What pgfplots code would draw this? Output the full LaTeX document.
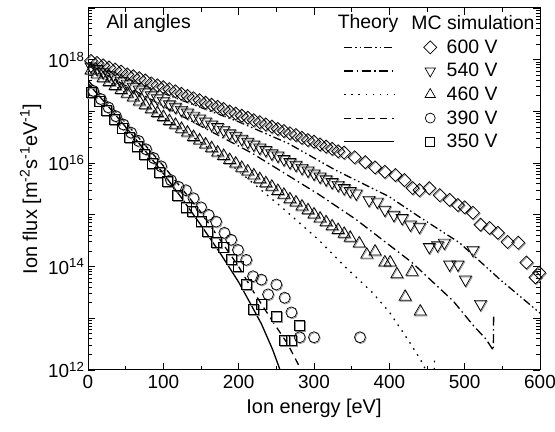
\documentclass[border=0pt]{standalone}
\usepackage{fontspec}
\setmainfont{Liberation Sans}
\usepackage{pgfplots}
\usepackage{pgfplotstable}
\pgfplotsset{compat=1.18}
% MC simulation data
\pgfplotstableread{
E y
4 9.5e17
12 8.7e17
20 7.8e17
28 7.1e17
36 6.5e17
44 5.9e17
52 5.2e17
60 4.8e17
68 4.4e17
76 4.0e17
84 3.5e17
92 3.2e17
100 2.95e17
108 2.7e17
116 2.45e17
124 2.2e17
132 2.0e17
140 1.8e17
148 1.66e17
156 1.48e17
164 1.35e17
172 1.23e17
180 1.12e17
188 1.0e17
196 9.1e16
204 8.3e16
212 7.6e16
220 6.8e16
228 6.2e16
236 5.6e16
244 5.1e16
252 4.6e16
260 4.2e16
268 3.8e16
276 3.5e16
284 3.1e16
292 2.8e16
300 2.6e16
308 2.3e16
316 2.1e16
324 1.9e16
332 1.7e16
340 1.6e16
354 1.3e16
368 1.05e16
381 8.3e15
394 6.8e15
408 5.9e15
420 4.7e15
431 3.3e15
440 3.0e15
453 3.3e15
467 2.4e15
480 1.95e15
491 1.55e15
500 1.4e15
511 1.1e15
521 6.5e14
533 5.6e14
544 4.5e14
557 3.0e14
571 2.9e14
582 1.2e14
594 6.2e13
599 7.6e13
}\mcA
\pgfplotstableread{
E y
4 7.4e17
12 6.6e17
20 5.75e17
28 5.0e17
36 4.5e17
44 3.9e17
52 3.45e17
60 3.0e17
68 2.65e17
76 2.35e17
84 2.05e17
92 1.8e17
100 1.6e17
108 1.38e17
116 1.23e17
124 1.07e17
132 9.5e16
140 8.3e16
148 7.3e16
156 6.4e16
164 5.6e16
172 5.0e16
180 4.4e16
188 3.8e16
196 3.4e16
204 2.95e16
212 2.6e16
220 2.3e16
228 2.0e16
236 1.8e16
244 1.55e16
252 1.4e16
260 1.2e16
268 1.05e16
276 9.3e15
284 8.1e15
292 7.2e15
300 6.3e15
308 5.5e15
316 4.9e15
324 4.3e15
332 3.8e15
340 3.3e15
348 2.9e15
356 2.6e15
373 1.95e15
384 1.8e15
394 1.26e15
406 1.0e15
417 8.7e14
428 6.5e14
440 5.9e14
453 2.4e14
464 2.6e14
473 2.9e14
480 1.1e14
491 1.1e14
501 5.6e13
511 2.1e14
521 1.9e13
}\mcB
\pgfplotstableread{
E y
4 6.2e17
12 5.2e17
20 4.4e17
28 3.7e17
36 3.1e17
44 2.6e17
52 2.2e17
60 1.86e17
68 1.55e17
76 1.32e17
84 1.1e17
92 9.3e16
100 7.8e16
108 6.5e16
116 5.5e16
124 4.6e16
132 3.9e16
140 3.2e16
148 2.75e16
156 2.3e16
164 1.95e16
172 1.6e16
180 1.38e16
188 1.15e16
196 9.8e15
204 8.1e15
212 6.9e15
220 5.8e15
228 4.9e15
236 4.1e15
244 3.5e15
252 2.9e15
260 2.45e15
268 2.0e15
276 1.74e15
284 1.45e15
292 1.23e15
300 1.02e15
308 8.5e14
316 7.2e14
324 6.0e14
332 5.1e14
340 4.3e14
348 3.6e14
360 2.8e14
370 1.7e14
381 1.95e14
394 1.2e14
401 1.2e14
410 7.1e13
421 2.6e13
430 7.9e13
441 1.35e13
}\mcC
\pgfplotstableread{
E y
7 2.5e17
17 1.74e17
27 1.2e17
37 8.1e16
47 5.6e16
57 3.9e16
67 2.7e16
77 1.86e16
87 1.26e16
97 8.7e15
110 4.7e15
120 3.5e15
130 3.0e15
140 2.1e15
150 1.4e15
160 1.0e15
170 7.4e14
181 4.5e14
190 3.3e14
199 2.1e14
210 1.35e14
219 6.5e13
230 5.6e13
239 2.9e13
250 4.5e13
261 2.5e13
270 1.3e13
281 4.3e12
300 4.3e12
361 4.3e12
}\mcD
\pgfplotstableread{
E y
5 2.3e17
15 1.6e17
25 1.05e17
35 7.1e16
45 4.8e16
55 3.2e16
65 2.1e16
75 1.45e16
85 9.8e15
95 6.5e15
105 4.4e15
119 2.4e15
130 1.4e15
139 1.15e15
150 7.4e14
159 4.7e14
170 2.9e14
180 2.4e14
190 1.35e14
199 1.0e14
210 4.5e13
220 1.5e13
230 1.9e13
250 1.1e13
261 3.7e12
270 3.7e12
281 7.4e12
}\mcE
\pgfplotsset{
  dddot/.style={dash pattern=on 8bp off 3bp on 1.5bp off 3bp on 1.5bp off 3bp},
  ddot/.style={dash pattern=on 9bp off 3.5bp on 1.5bp off 3.5bp},
  ddotted/.style={dash pattern=on 1.6bp off 5.5bp},
  ddashed/.style={dash pattern=on 7bp off 5bp},
  th/.style={black, line width=1.3bp, forget plot},
  mk/.style={only marks, black, line width=0.7bp, forget plot},
  sh/.style={only marks, black!45, line width=0.7bp, forget plot},
}
\begin{document}
\begin{tikzpicture}
\path[use as bounding box] (0,0) rectangle (555bp,432bp);
\begin{axis}[
  at={(88bp,62bp)}, anchor=south west, scale only axis,
  width=452bp, height=362bp,
  xmin=0, xmax=600, ymin=1e12, ymax=1e19, ymode=log,
  xtick={0,100,200,300,400,500,600}, minor x tick num=1,
  ytick={1e12,1e13,1e14,1e15,1e16,1e17,1e18,1e19},
  yticklabels={10\textsuperscript{12},,10\textsuperscript{14},,10\textsuperscript{16},,10\textsuperscript{18},},
  major tick length=7bp, minor tick length=4bp,
  tick style={black, line width=0.8bp},
  axis line style={line width=1bp},
  ticklabel style={font=\fontsize{19}{22}\selectfont},
  xticklabel style={yshift=-2bp},
  /pgf/number format/assume math mode=true,
  xlabel={Ion energy [eV]},
  ylabel={Ion flux [m\textsuperscript{-2}s\textsuperscript{-1}eV\textsuperscript{-1}]},
  label style={font=\fontsize{20}{24}\selectfont},
  xlabel style={yshift=-3bp},
  legend style={draw=none, fill=none, at={(0.565,0.918)}, anchor=north west,
    font=\fontsize{19.5}{22}\selectfont, row sep=4.5bp, column sep=8bp, inner sep=0pt,
    nodes={inner sep=2bp}},
  legend cell align=left,
]
% theory
\addplot[th, dddot] coordinates {(0,8.9e17) (100,2.24e17) (200,6.3e16) (266,2.4e16) (328,7.4e15) (400,2.24e15) (440,9.1e14) (493,2.9e14) (547,5.6e13) (600,1.26e13)};
\addplot[th, ddot] coordinates {(0,7.9e17) (100,1.26e17) (217,1.58e16) (306,2.5e15) (355,8.3e14) (430,1.2e14) (485,2.14e13) (512,7.1e12) (528,4e12) (538,2.4e12) (538.5,1.12e13)};
\addplot[th, ddotted] coordinates {(0,7.1e17) (50,2.24e17) (100,7.6e16) (150,2.5e16) (194,8.3e15) (257,1.41e15) (306,3.3e14) (341,1e14) (377,3.2e13) (400,1.32e13) (426,3.6e12) (441,1.62e12) (452,7.9e11) (459,3.2e11) (460,1.78e12)};
\addplot[th, ddashed] coordinates {(0,4e17) (50,6e16) (100,8.9e15) (150,1.12e15) (200,1e14) (220,3.2e13) (247,7.9e12) (265,3.2e12) (283,1e12)};
\addplot[th] coordinates {(0,3.5e17) (25,1.35e17) (50,5e16) (75,1.8e16) (100,6.3e15) (125,2.05e15) (150,6.3e14) (175,1.86e14) (200,5e13) (215,2.0e13) (230,7.9e12) (245,2.5e12) (255,1e12)};
% shadows
\addplot[sh, mark=square, mark size=4.6bp, every mark/.append style={xshift=0.8bp, yshift=-0.9bp, rotate=45}] table {\mcA};
\addplot[sh, mark=triangle, mark size=7bp, every mark/.append style={xshift=0.8bp, yshift=-0.9bp, rotate=180}] table {\mcB};
\addplot[sh, mark=triangle, mark size=7bp, every mark/.append style={xshift=0.8bp, yshift=-0.9bp}] table {\mcC};
\addplot[sh, mark=o, mark size=5.5bp, every mark/.append style={xshift=0.8bp, yshift=-0.9bp}] table {\mcD};
\addplot[sh, mark=square, mark size=5bp, every mark/.append style={xshift=0.8bp, yshift=-0.9bp}] table {\mcE};
% marks
\addplot[mk, mark=square, mark size=4.6bp, every mark/.append style={rotate=45}] table {\mcA};
\addplot[mk, mark=triangle, mark size=7bp, every mark/.append style={rotate=180}] table {\mcB};
\addplot[mk, mark=triangle, mark size=7bp] table {\mcC};
\addplot[mk, mark=o, mark size=5.5bp] table {\mcD};
\addplot[mk, mark=square, mark size=5bp] table {\mcE};
% legend
\addlegendimage{legend image code/.code={\draw[black, line width=1.1bp, dash pattern=on 8bp off 3bp on 1.5bp off 3bp on 1.5bp off 3bp] (0bp,0bp) -- (50bp,0bp); \draw[black, line width=0.7bp, only marks, mark=square, mark size=4.6bp, every mark/.append style={rotate=45}] plot coordinates {(86bp,0bp)};}}
\addlegendentry{600 V}
\addlegendimage{legend image code/.code={\draw[black, line width=1.1bp, dash pattern=on 9bp off 3.5bp on 1.5bp off 3.5bp] (0bp,0bp) -- (50bp,0bp); \draw[black, line width=0.7bp, only marks, mark=triangle, mark size=6bp, every mark/.append style={rotate=180}] plot coordinates {(86bp,0bp)};}}
\addlegendentry{540 V}
\addlegendimage{legend image code/.code={\draw[black, line width=1.3bp, dash pattern=on 1.6bp off 5.5bp] (0bp,0bp) -- (50bp,0bp); \draw[black, line width=0.7bp, only marks, mark=triangle, mark size=6bp] plot coordinates {(86bp,0bp)};}}
\addlegendentry{460 V}
\addlegendimage{legend image code/.code={\draw[black, line width=1.1bp, dash pattern=on 7bp off 5bp] (0bp,0bp) -- (50bp,0bp); \draw[black, line width=0.7bp, only marks, mark=o, mark size=5bp] plot coordinates {(86bp,0bp)};}}
\addlegendentry{390 V}
\addlegendimage{legend image code/.code={\draw[black, line width=1.3bp] (0bp,0bp) -- (50bp,0bp); \draw[black, line width=0.7bp, only marks, mark=square, mark size=4.5bp] plot coordinates {(86bp,0bp)};}}
\addlegendentry{350 V}
\end{axis}
\node[anchor=west, font=\fontsize{19.5}{22}\selectfont] at (103bp,409bp) {All angles};
\node[font=\fontsize{19.5}{22}\selectfont] at (368bp,409bp) {Theory};
\node[font=\fontsize{19.5}{22}\selectfont] at (473bp,409bp) {MC simulation};
\end{tikzpicture}
\end{document}
